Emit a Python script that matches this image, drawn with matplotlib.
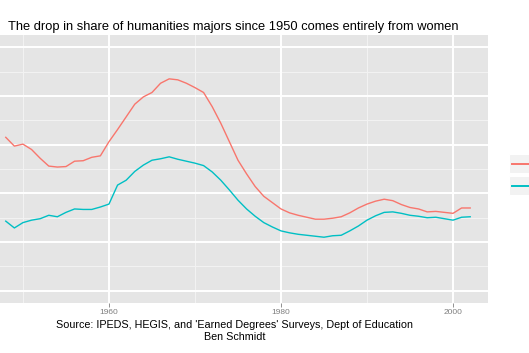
import matplotlib
matplotlib.use("Agg")
import matplotlib.pyplot as plt
from matplotlib.patches import Rectangle
from matplotlib.lines import Line2D

years = list(range(1948, 2003))
series_red = [3.15, 2.97, 3.01, 2.90, 2.72, 2.56, 2.54, 2.55, 2.66, 2.67,
              2.74, 2.77, 3.06, 3.31, 3.57, 3.83, 3.98, 4.07, 4.26, 4.35,
              4.33, 4.26, 4.17, 4.07, 3.78, 3.44, 3.06, 2.68, 2.40, 2.14,
              1.94, 1.81, 1.68, 1.60, 1.55, 1.51, 1.47, 1.47, 1.49, 1.52,
              1.60, 1.70, 1.78, 1.84, 1.88, 1.85, 1.77, 1.71, 1.68, 1.62,
              1.63, 1.61, 1.59, 1.70, 1.70]
series_teal = [1.43, 1.29, 1.40, 1.45, 1.48, 1.55, 1.52, 1.61, 1.68, 1.67,
               1.67, 1.72, 1.78, 2.17, 2.27, 2.45, 2.58, 2.68, 2.71, 2.75,
               2.70, 2.66, 2.62, 2.57, 2.44, 2.27, 2.07, 1.86, 1.68, 1.53,
               1.40, 1.31, 1.23, 1.19, 1.16, 1.14, 1.12, 1.10, 1.13, 1.14,
               1.23, 1.33, 1.45, 1.54, 1.61, 1.62, 1.59, 1.55, 1.53, 1.50,
               1.51, 1.48, 1.45, 1.51, 1.52]
x_major = [1960, 1980, 2000]
x_minor = [1950, 1970, 1990]
x_labels = ["1960", "1980", "2000"]
y_major = [0, 1, 2, 3, 4, 5]
y_minor = [0.5, 1.5, 2.5, 3.5, 4.5]

RED = "#F8766D"
TEAL = "#00BFC4"
W, H = 529, 353

fig = plt.figure(figsize=(W / 100, H / 100), dpi=100)
fig.patch.set_facecolor("white")
ax = fig.add_axes([0, (H - 303) / H, 488 / W, (303 - 35) / H])
ax.set_facecolor("#E5E5E5")
ax.set_xlim(1947.33, 2004.07)
ax.set_ylim(-0.25, 5.25)

for v in x_minor:
    ax.axvline(v, color="#F2F2F2", lw=0.8, zorder=0.5)
for v in y_minor:
    ax.axhline(v, color="#F2F2F2", lw=0.8, zorder=0.5)
for v in x_major:
    ax.axvline(v, color="white", lw=1.4, zorder=0.6)
for v in y_major:
    ax.axhline(v, color="white", lw=1.4, zorder=0.6)

ax.plot(years, series_red, color=RED, lw=1.0, zorder=2)
ax.plot(years, series_teal, color=TEAL, lw=1.0, zorder=2)

for s in ax.spines.values():
    s.set_visible(False)
ax.set_xticks(x_major)
ax.set_xticklabels(x_labels, fontsize=6.0, color="#7F7F7F", family="Liberation Sans")
ax.tick_params(axis="x", length=3, width=0.6, color="#7F7F7F", pad=1.5)
ax.set_yticks([])

fig.text(8 / W, 1 - 27 / H, "The drop in share of humanities majors since 1950 comes entirely from women",
         ha="left", va="center", fontsize=9.3, family="Liberation Sans", color="black")
fig.text(235 / W, 1 - 325 / H, "Source: IPEDS, HEGIS, and 'Earned Degrees' Surveys, Dept of Education",
         ha="center", va="center", fontsize=7.75, family="Liberation Sans", color="black")
fig.text(235 / W, 1 - 337 / H, "Ben Schmidt",
         ha="center", va="center", fontsize=7.75, family="Liberation Sans", color="black")

# legend keys (cropped at right edge)
for top, col in [(154, RED), (176, TEAL)]:
    fig.patches.append(Rectangle((509 / W, 1 - (top + 19) / H), 30 / W, 19 / H,
                                 transform=fig.transFigure, facecolor="#F2F2F2",
                                 edgecolor="white", lw=0.8))
    yy = 1 - (top + 9.5) / H
    fig.lines.append(Line2D([512 / W, 1.02], [yy, yy], transform=fig.transFigure,
                            color=col, lw=1.4))

fig.savefig("out.png", dpi=100)
